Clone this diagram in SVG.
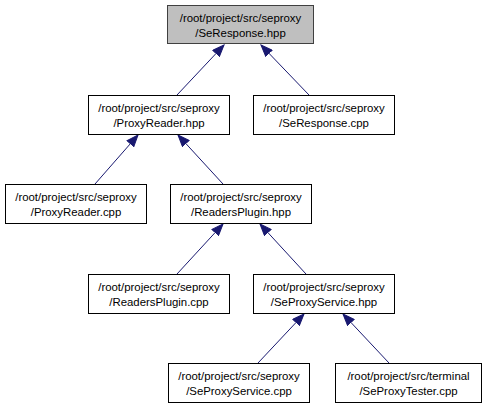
<svg xmlns="http://www.w3.org/2000/svg" width="487" height="409" viewBox="0 0 487 409">
<style>
.node rect{fill:#ffffff;stroke:#000000;stroke-width:1}
.node.cur rect{fill:#bfbfbf;stroke:#404040}
.node text{font-family:"Liberation Sans",Arial,sans-serif;font-size:11.4px;fill:#000000;text-anchor:middle}
.edges line{stroke:#191970;stroke-width:1;fill:none}
</style>
<defs>
<marker id="ah" markerUnits="userSpaceOnUse" markerWidth="13" markerHeight="10" refX="12" refY="5" orient="auto">
<path d="M0.5,0.5 L12,5 L0.5,9.5 z" fill="#191970" stroke="#191970" stroke-width="1"/>
</marker>
</defs>
<rect width="487" height="409" fill="#ffffff"/>
<g class="edges" id="edges">
<line x1="177" y1="95" x2="224" y2="45" marker-end="url(#ah)"/>
<line x1="309" y1="95" x2="261" y2="45" marker-end="url(#ah)"/>
<line x1="95" y1="184" x2="138" y2="135" marker-end="url(#ah)"/>
<line x1="223" y1="184" x2="178" y2="135" marker-end="url(#ah)"/>
<line x1="177" y1="274" x2="223" y2="224" marker-end="url(#ah)"/>
<line x1="306" y1="274" x2="260" y2="224" marker-end="url(#ah)"/>
<line x1="258" y1="363" x2="304" y2="314" marker-end="url(#ah)"/>
<line x1="389" y1="363" x2="343" y2="314" marker-end="url(#ah)"/>
</g>
<g class="node cur" id="node1">
<rect x="167.5" y="5.5" width="146" height="38"/>
<text x="240.5" y="22">/root/project/src/seproxy</text>
<text x="240.5" y="36.5">/SeResponse.hpp</text>
</g>
<g class="node" id="node2">
<rect x="88.5" y="95.5" width="141" height="39"/>
<text x="159" y="112">/root/project/src/seproxy</text>
<text x="159" y="126.5">/ProxyReader.hpp</text>
</g>
<g class="node" id="node3">
<rect x="253.5" y="95.5" width="141" height="39"/>
<text x="324" y="112">/root/project/src/seproxy</text>
<text x="324" y="126.5">/SeResponse.cpp</text>
</g>
<g class="node" id="node4">
<rect x="5.5" y="184.5" width="141" height="39"/>
<text x="76" y="201">/root/project/src/seproxy</text>
<text x="76" y="215.5">/ProxyReader.cpp</text>
</g>
<g class="node" id="node5">
<rect x="170.5" y="184.5" width="141" height="39"/>
<text x="241" y="201">/root/project/src/seproxy</text>
<text x="241" y="215.5">/ReadersPlugin.hpp</text>
</g>
<g class="node" id="node6">
<rect x="88.5" y="274.5" width="141" height="39"/>
<text x="159" y="291">/root/project/src/seproxy</text>
<text x="159" y="305.5">/ReadersPlugin.cpp</text>
</g>
<g class="node" id="node7">
<rect x="253.5" y="274.5" width="141" height="39"/>
<text x="324" y="291">/root/project/src/seproxy</text>
<text x="324" y="305.5">/SeProxyService.hpp</text>
</g>
<g class="node" id="node8">
<rect x="168.5" y="363.5" width="141" height="39"/>
<text x="239" y="380">/root/project/src/seproxy</text>
<text x="239" y="394.5">/SeProxyService.cpp</text>
</g>
<g class="node" id="node9">
<rect x="335.5" y="363.5" width="146" height="39"/>
<text x="408.5" y="380">/root/project/src/terminal</text>
<text x="408.5" y="394.5">/SeProxyTester.cpp</text>
</g>
</svg>
